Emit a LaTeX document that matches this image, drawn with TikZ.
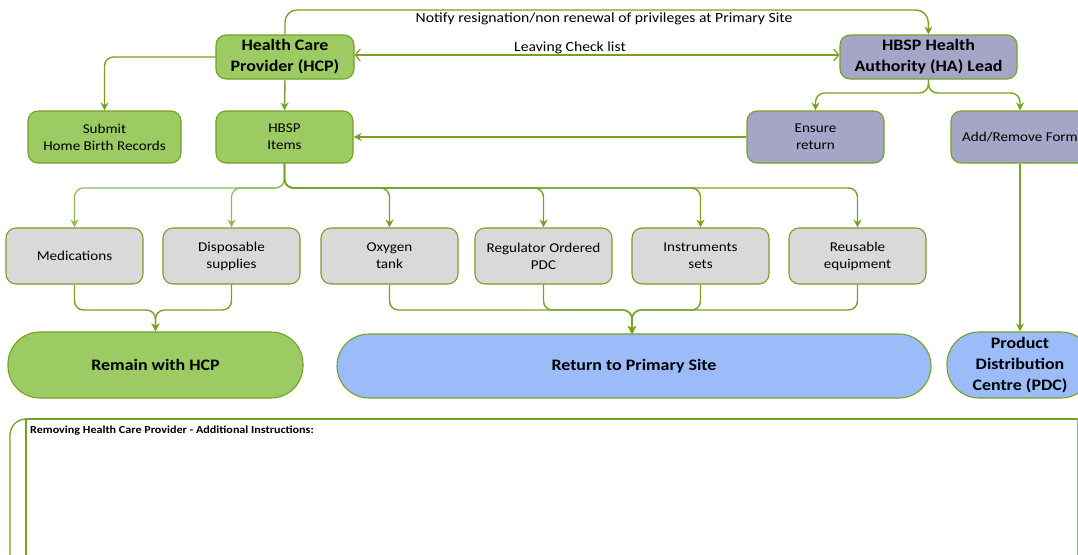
\documentclass[tikz,border=0pt]{standalone}
\usepackage{fontspec}
\setmainfont{Carlito}[FakeStretch=1.12]
\usetikzlibrary{arrows.meta,calc}
\definecolor{gfill}{HTML}{9BCB62}
\definecolor{gline}{HTML}{76A125}
\definecolor{glight}{HTML}{8DBB55}
\definecolor{boxgray}{HTML}{D9D9D9}
\definecolor{lav}{HTML}{A5A5C8}
\definecolor{bl}{HTML}{9CBBF9}
\begin{document}
\begin{tikzpicture}[x=1pt,y=-1pt,
  basebox/.style={draw=gline, line width=1.1pt, rounded corners=10pt, minimum width=137pt, minimum height=52pt, inner sep=2pt, align=center, font=\fontsize{13.5}{17}\selectfont},
  gbox/.style={basebox, fill=gfill},
  lbox/.style={basebox, fill=lav},
  graybox/.style={basebox, fill=boxgray, minimum height=56pt},
  titlefont/.style={font=\bfseries\fontsize{16}{21}\selectfont},
  pill/.style={draw=gline, line width=1.1pt, rounded corners=32pt, minimum height=66pt, align=center, font=\bfseries\fontsize{16}{21}\selectfont},
  conn/.style={draw=gline, line width=1.4pt, rounded corners=9pt, -{Stealth[length=8pt,width=8pt]}},
  lbl/.style={font=\fontsize{14}{15}\selectfont, inner sep=1pt}
]
\useasboundingbox (0,0) rectangle (1078,554);

% top row
\node[gbox, titlefont, minimum width=138pt, minimum height=44pt] (hcp) at (285,57) {Health Care\\Provider (HCP)};
\node[lbox, titlefont, minimum width=177pt, minimum height=44pt] (ha) at (928.5,57) {HBSP Health\\Authority (HA) Lead};

% second row
\node[gbox, minimum width=153pt] (sub) at (104.5,137) {Submit\\Home Birth Records};
\node[gbox] (items) at (284.5,137) {HBSP\\Items};
\node[lbox] (ens) at (815.5,137) {Ensure\\return};
\node[lbox, minimum width=138pt] (add) at (1020,137) {Add/Remove Form};

% item row
\node[graybox] (c1) at (74.5,256) {Medications};
\node[graybox] (c2) at (231.5,256) {Disposable\\supplies};
\node[graybox] (c3) at (389.5,256) {Oxygen\\tank};
\node[graybox] (c4) at (543.5,256) {Regulator Ordered\\PDC};
\node[graybox] (c5) at (700.5,256) {Instruments\\sets};
\node[graybox] (c6) at (857.5,256) {Reusable\\equipment};

% destinations
\node[pill, fill=gfill, minimum width=295pt] (rem) at (155.5,365) {Remain with HCP};
\node[pill, fill=bl, minimum width=594pt, minimum height=64pt] (ret) at (634,366) {Return to Primary Site};
\node[pill, fill=bl, minimum width=146pt] (pdc) at (1020,365) {Product\\Distribution\\Centre (PDC)};

% labels
\node[lbl] (notify) at (604,19) {Notify resignation/non renewal of privileges at Primary Site};
\node[lbl] (leave) at (570,48) {Leaving Check list};

% connectors
\draw[conn, rounded corners=12pt] (hcp.north) |- (928,10) -- (ha.north);
\draw[draw=gline, line width=1.2pt, {Straight Barb[length=5pt,width=12pt]}-{Straight Barb[length=5pt,width=12pt]}] (hcp.east |- 0,55) -- (ha.west |- 0,55);
\draw[conn] (hcp.west) -| (sub.north);
\draw[conn] (hcp.south) -- (items.north);
\draw[conn] (ens.west) -- (items.east);
\draw[conn] (ha.south) |- (860,93) -| (ens.north);
\draw[conn] (ha.south) |- (990,93) -| (add.north);
\draw[conn, line width=2pt] (add.south) -- (pdc.north);

\foreach \c in {c1,c2} {
  \draw[conn, draw=glight, line width=1.2pt] (items.south) |- (\c.north |- 0,188) -- (\c.north);
}
\foreach \c in {c3,c4,c5,c6} {
  \draw[conn] (items.south) |- (\c.north |- 0,188) -- (\c.north);
}
\foreach \c in {c1,c2} {
  \draw[conn] (\c.south) |- (rem.north |- 0,310) -- (rem.north);
}
\foreach \c in {c3,c4,c5,c6} {
  \draw[conn] (\c.south) |- (632,310) -- (632,334);
}

% bottom instruction box
\draw[draw=gline, line width=1.3pt] (1090,419) -- (26,419) -- (26,570);
\draw[draw=glight, line width=1pt] (1077,419) -- (1077,570);
\draw[draw=gline, line width=1.3pt, rounded corners=16pt] (26,419) -- (10,419) -- (10,570) -- (26,570);
\node[anchor=west, font=\bfseries\fontsize{10.8}{12}\selectfont, inner sep=0pt] (instr) at (30,431) {Removing Health Care Provider - Additional Instructions:};
\end{tikzpicture}
\end{document}
